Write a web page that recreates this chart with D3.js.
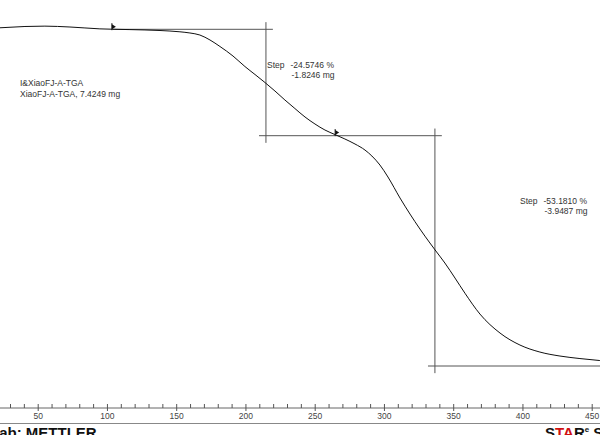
<!DOCTYPE html>
<html>
<head>
<meta charset="utf-8">
<script src="https://cdn.jsdelivr.net/npm/d3@7"></script>
<style>
  body { margin: 0; background: #fff; overflow: hidden; }
  svg { display: block; }
  text { font-family: "Liberation Sans", Arial, sans-serif; }
</style>
</head>
<body>
<div id="chart"></div>
<script>
// TGA curve: temperature (°C) vs remaining mass (%)
var temps = [22.7, 30.0, 40.8, 55.2, 73.3, 94.9, 116.6, 138.3, 152.7, 159.9, 167.1, 174.4,
    181.6, 191.0, 199.6, 206.9, 214.1, 221.3, 228.5, 235.7, 243.0, 250.2, 257.4, 264.6,
    271.8, 279.1, 286.3, 291.3, 297.1, 302.9, 311.6, 318.8, 326.0, 333.2, 337.5, 344.0,
    351.3, 358.5, 369.3, 383.8, 398.2, 412.6, 427.1, 441.5, 455.9];
var weightPct = [99.10, 99.22, 99.40, 99.48, 99.28, 98.85, 98.68, 98.47, 98.17, 97.90, 97.43, 96.28,
    94.78, 92.58, 90.16, 88.31, 86.46, 84.50, 82.42, 80.46, 78.50, 76.88, 75.49, 74.45,
    73.42, 72.26, 70.87, 69.49, 67.41, 64.64, 59.79, 56.09, 52.63, 49.40, 47.55, 44.78,
    41.31, 37.80, 33.00, 28.61, 25.84, 24.22, 23.30, 22.72, 22.26];

// step evaluation
var stepTemps = [214.8, 336.8];          // inflection (vertical line) temperatures
var stepLevels = [98.75, 74.18, 21.0];   // plateau levels in %
var stepLimits = [104.3, 265.5, 470];    // evaluation limits (°C)
var stepPct = ["-24.5746 %", "-53.1810 %"];
var stepMg = ["-1.8246 mg", "-3.9487 mg"];

var sampleLabels = ["I&XiaoFJ-A-TGA", "XiaoFJ-A-TGA, 7.4249 mg"];
var minorTicks = d3.range(30, 460, 10);
var majorTicks = [50, 100, 150, 200, 250, 300, 350, 400, 450];

var width = 600, height = 435;

var svg = d3.select("#chart").append("svg")
    .attr("width", width)
    .attr("height", height);

var x = d3.scaleLinear().domain([50, 450]).range([37.7, 591.7]);
var y = d3.scaleLinear().domain([98.75, 21.0]).range([29.3, 366.0]);

var plot = svg.append("g");

// step construction lines
var lineColor = "#555";
var over = 5;     // overshoot of horizontals past the verticals (°C)
var vOver = 1.65; // overshoot of verticals past the plateaus (%)

// first plateau, starts at the left limit marker
plot.append("line")
    .attr("x1", x(stepLimits[0])).attr("x2", x(stepTemps[0] + over))
    .attr("y1", y(stepLevels[0])).attr("y2", y(stepLevels[0]))
    .attr("stroke", "#777").attr("stroke-width", 1.2);
// middle plateau line runs across both steps
plot.append("line")
    .attr("x1", x(stepTemps[0] - over)).attr("x2", x(stepTemps[1] + over))
    .attr("y1", y(stepLevels[1])).attr("y2", y(stepLevels[1]))
    .attr("stroke", lineColor).attr("stroke-width", 1);
// last plateau line
plot.append("line")
    .attr("x1", x(stepTemps[1] - over)).attr("x2", x(stepLimits[2]))
    .attr("y1", y(stepLevels[2])).attr("y2", y(stepLevels[2]))
    .attr("stroke", lineColor).attr("stroke-width", 1);

stepTemps.forEach(function(t, i) {
    plot.append("line")
        .attr("x1", x(t)).attr("x2", x(t))
        .attr("y1", y(stepLevels[i] + vOver)).attr("y2", y(stepLevels[i + 1] - vOver))
        .attr("stroke", lineColor).attr("stroke-width", 1);
});

// curve
var curve = temps.map(function(t, i) { return [t, weightPct[i]]; });
plot.append("path")
    .datum(curve)
    .attr("fill", "none")
    .attr("stroke", "#111")
    .attr("stroke-width", 1)
    .attr("d", d3.line()
        .x(function(d) { return x(d[0]); })
        .y(function(d) { return y(d[1]); })
        .curve(d3.curveMonotoneX));

// limit markers
var interp = d3.scaleLinear().domain(temps).range(weightPct);
[stepLimits[0], stepLimits[1]].forEach(function(t) {
    var cx = x(t), cy = y(interp(t));
    plot.append("path")
        .attr("d", "M" + (cx - 1) + "," + (cy - 5) + "L" + (cx + 3) + "," + (cy - 2.5) +
            "L" + (cx - 1) + "," + (cy) + "Z")
        .attr("fill", "#111");
    plot.append("line")
        .attr("x1", cx - 1).attr("x2", cx - 1)
        .attr("y1", cy - 6).attr("y2", cy + 1)
        .attr("stroke", "#111").attr("stroke-width", 1);
});

// step annotations
var stepLabelPos = [[267, 68], [520, 204]];
stepLabelPos.forEach(function(p, i) {
    var g = svg.append("g").attr("fill", "#333").attr("font-size", "8.5px");
    g.append("text").attr("x", p[0]).attr("y", p[1]).text("Step");
    g.append("text").attr("x", p[0] + 23.5).attr("y", p[1]).text(stepPct[i]);
    g.append("text").attr("x", p[0] + 24.5).attr("y", p[1] + 9.5).text(stepMg[i]);
});

// sample name
svg.selectAll(".sample")
    .data(sampleLabels)
    .enter()
    .append("text")
    .attr("class", "sample")
    .attr("x", 20)
    .attr("y", function(d, i) { return 86 + i * 10.5; })
    .attr("fill", "#333")
    .attr("font-size", "8.5px")
    .text(function(d) { return d; });

// temperature axis
var axisY = 408;
svg.append("line")
    .attr("x1", 0).attr("x2", width)
    .attr("y1", axisY).attr("y2", axisY)
    .attr("stroke", "#666");

var minorAxis = svg.append("g")
    .attr("transform", "translate(0," + axisY + ")")
    .call(d3.axisBottom(x).tickValues(minorTicks).tickSize(-4).tickFormat(""));
minorAxis.select(".domain").remove();
minorAxis.selectAll("line").attr("stroke", "#555");

var majorAxis = svg.append("g")
    .attr("transform", "translate(0," + axisY + ")")
    .call(d3.axisBottom(x).tickValues(majorTicks).tickSize(3).tickPadding(2));
majorAxis.select(".domain").remove();
majorAxis.selectAll("line").attr("stroke", "#555");
majorAxis.selectAll("text")
    .attr("fill", "#444")
    .attr("font-size", "8.5px")
    .attr("font-family", "Liberation Sans, Arial, sans-serif");

svg.append("line")
    .attr("x1", 0).attr("x2", width)
    .attr("y1", 423.5).attr("y2", 423.5)
    .attr("stroke", "#888");

// footer (cut off by the window edge, as in the source)
svg.append("text")
    .attr("x", -10).attr("y", 438)
    .attr("font-size", "15px").attr("font-weight", "bold")
    .attr("fill", "#111")
    .text("Lab: METTLER");

var star = svg.append("text")
    .attr("x", 545).attr("y", 438)
    .attr("font-size", "15px").attr("font-weight", "bold")
    .attr("fill", "#111");
star.append("tspan").text("S");
star.append("tspan").attr("fill", "#d01010").text("TA");
star.append("tspan").text("R");
star.append("tspan").attr("font-size", "8px").attr("dy", -6).text("e");
star.append("tspan").attr("dy", 6).text(" SW");
</script>
</body>
</html>
